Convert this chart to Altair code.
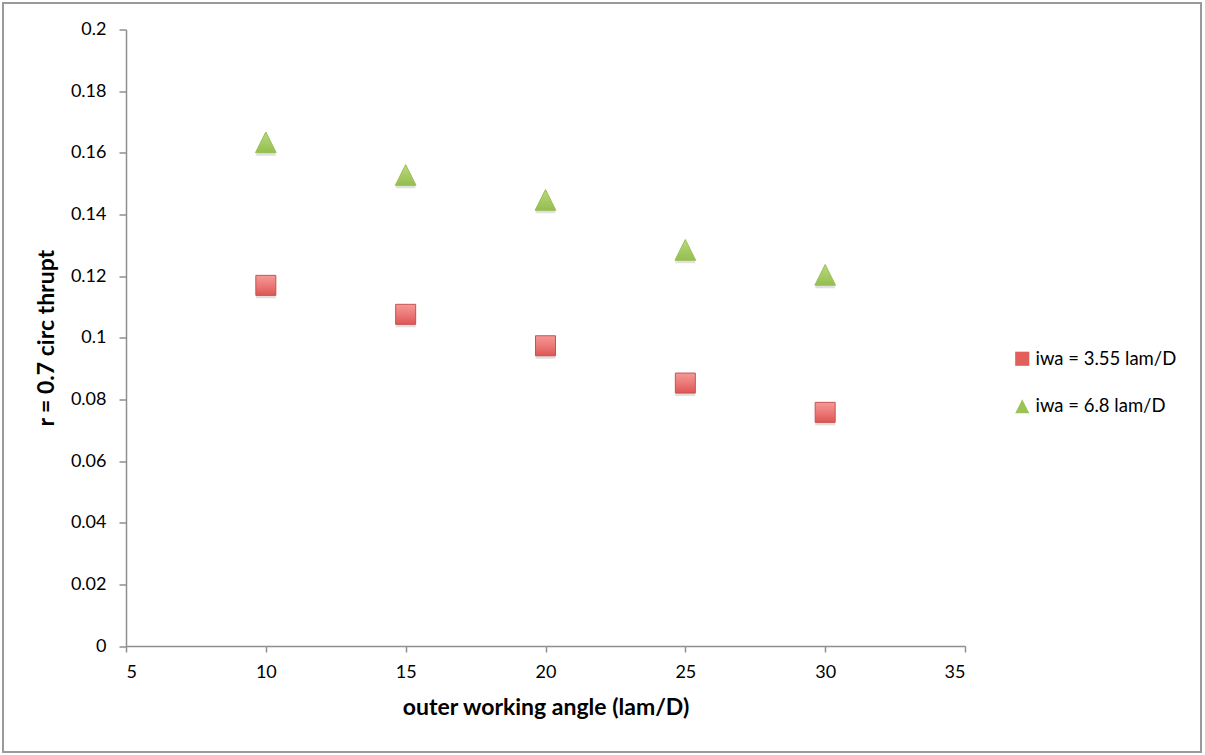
import altair as alt
import pandas as pd

# Outer working angle (lam/D) sampled for both inner-working-angle designs
owa = [10, 15, 20, 25, 30]
thrupt_iwa_355 = [0.1170, 0.1076, 0.0974, 0.0853, 0.0758]
thrupt_iwa_68 = [0.1634, 0.1528, 0.1447, 0.1285, 0.1204]

series_names = ["iwa = 3.55 lam/D", "iwa = 6.8 lam/D"]
x_ticks = [5, 10, 15, 20, 25, 30, 35]
y_ticks = [0, 0.02, 0.04, 0.06, 0.08, 0.1, 0.12, 0.14, 0.16, 0.18, 0.2]

rows = []
for x, v in zip(owa, thrupt_iwa_355):
    rows.append({"owa": x, "thrupt": v, "series": series_names[0]})
for x, v in zip(owa, thrupt_iwa_68):
    rows.append({"owa": x, "thrupt": v, "series": series_names[1]})
df = pd.DataFrame(rows)

FONT = "Lato"
AXIS_GRAY = "#8f8f8f"
TRIANGLE = "M0,-1L-1,1L1,1Z"

x_enc = alt.X(
    "owa:Q",
    scale=alt.Scale(domain=[5, 35], nice=False, zero=False),
    axis=alt.Axis(
        values=x_ticks,
        title="outer working angle (lam/D)",
        titlePadding=15,
        labelPadding=11,
        tickSize=6,
    ),
)
y_enc = alt.Y(
    "thrupt:Q",
    scale=alt.Scale(domain=[0, 0.2], nice=False),
    axis=alt.Axis(
        values=y_ticks,
        format="~g",
        title="r = 0.7 circ thrupt",
        titlePadding=12,
        labelPadding=13,
        tickSize=7,
    ),
)

# Legend-only layer: no marks pass the filter, the explicit domain keeps both entries
legend_layer = alt.Chart(df).transform_filter("false").mark_point(
    filled=True, size=300, opacity=1
).encode(
    x=x_enc,
    y=y_enc,
    color=alt.Color(
        "series:N",
        scale=alt.Scale(domain=series_names, range=["#e25f5c", "#9bc256"]),
        legend=alt.Legend(
            title=None,
            orient="none",
            legendX=887,
            legendY=320,
            symbolOpacity=1,
            symbolSize=200,
            symbolStrokeWidth=0,
            labelFontSize=18.5,
            labelFont=FONT,
            labelColor="#000000",
            rowPadding=28.5,
            labelOffset=4,
            padding=0,
        ),
    ),
    shape=alt.Shape(
        "series:N",
        scale=alt.Scale(domain=series_names, range=["square", TRIANGLE]),
    ),
)

red_grad = alt.Gradient(
    gradient="linear", x1=0, y1=0, x2=0, y2=1,
    stops=[alt.GradientStop(offset=0, color="#f39a98"),
           alt.GradientStop(offset=0.5, color="#ec7977"),
           alt.GradientStop(offset=1, color="#dc5754")],
)
green_grad = alt.Gradient(
    gradient="linear", x1=0, y1=0, x2=0, y2=1,
    stops=[alt.GradientStop(offset=0, color="#b9d97c"),
           alt.GradientStop(offset=1, color="#95bd4f")],
)


def series_layers(name, shape, size, fill, stroke):
    base = alt.Chart(df).transform_filter(alt.datum.series == name)
    shadow = base.mark_point(
        filled=True, shape=shape, size=size, fill="#000000", opacity=0.12,
        yOffset=3, strokeWidth=0,
    ).encode(x="owa:Q", y="thrupt:Q")
    body = base.mark_point(
        filled=True, shape=shape, size=size, fill=fill, stroke=stroke,
        strokeWidth=1, opacity=1,
    ).encode(x="owa:Q", y="thrupt:Q")
    return [shadow, body]


# Thin grey frame around the whole figure
frame = alt.Chart(alt.Data(values=[{}])).mark_rect(
    filled=False, stroke="#9a9a9a", strokeWidth=2,
).encode(
    x=alt.value(-123), x2=alt.value(1075),
    y=alt.value(-26.5), y2=alt.value(722.5),
)

chart = alt.layer(
    frame,
    legend_layer,
    *series_layers(series_names[0], "square", 400, red_grad, "#c9524f"),
    *series_layers(series_names[1], TRIANGLE, 430, green_grad, "#98bf55"),
).properties(
    width=839,
    height=616.5,
    padding={"left": 126, "top": 29.5, "right": 240, "bottom": 109},
    autosize=alt.AutoSizeParams(type="none"),
    background="#ffffff",
).configure_view(
    stroke=None,
).configure_axis(
    grid=False,
    domainColor=AXIS_GRAY,
    domainWidth=1.5,
    tickColor=AXIS_GRAY,
    tickWidth=1.5,
    labelFont=FONT,
    labelFontSize=18,
    labelColor="#000000",
    titleFont=FONT,
    titleFontSize=23,
    titleFontWeight="bold",
    titleColor="#000000",
)

chart.save("out.html", embed_options={"renderer": "svg", "actions": False})
